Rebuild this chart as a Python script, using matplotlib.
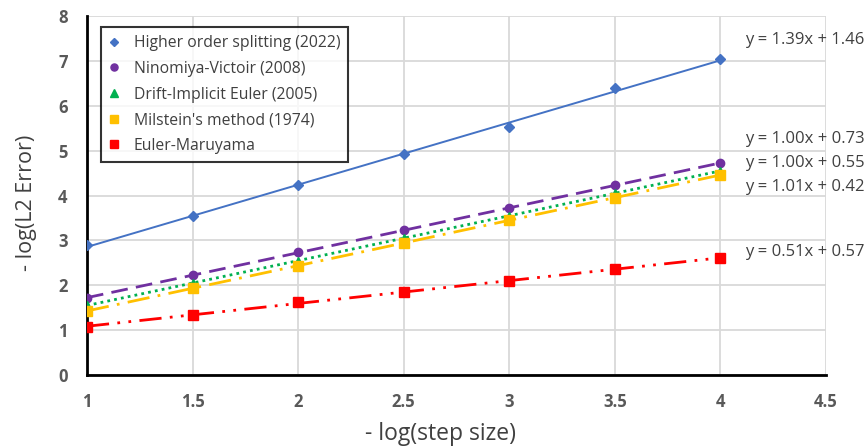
import numpy as np
import matplotlib
matplotlib.use("Agg")
import matplotlib.pyplot as plt

plt.rcParams['font.family'] = ['Open Sans', 'DejaVu Sans']

x = [1, 1.5, 2, 2.5, 3, 3.5, 4]
higher_order = [2.90, 3.54, 4.23, 4.92, 5.52, 6.39, 7.04]
ninomiya = [1.71, 2.23, 2.74, 3.23, 3.72, 4.23, 4.72]
drift_implicit = [1.55, 2.05, 2.55, 3.05, 3.55, 4.05, 4.55]
milstein = [1.43, 1.93, 2.44, 2.94, 3.45, 3.95, 4.46]
euler_maruyama = [1.07, 1.34, 1.63, 1.85, 2.09, 2.36, 2.61]

labels = ["Higher order splitting (2022)", "Ninomiya-Victoir (2008)",
          "Drift-Implicit Euler (2005)", "Milstein's method (1974)", "Euler-Maruyama"]
equations = ["y = 1.39x + 1.46", "y = 1.00x + 0.73", "y = 1.00x + 0.55",
             "y = 1.01x + 0.42", "y = 0.51x + 0.57"]
eq_y = [7.47, 5.26, 4.72, 4.19, 2.74]
xticks = [1, 1.5, 2, 2.5, 3, 3.5, 4, 4.5]
yticks = [0, 1, 2, 3, 4, 5, 6, 7, 8]

series = [higher_order, ninomiya, drift_implicit, milstein, euler_maruyama]
colors = ["#4472C4", "#7030A0", "#00B050", "#FFC000", "#FF0000"]
markers = ["D", "o", "^", "s", "s"]
msizes = [5, 6, 6, 7, 7]
styles = ["-", (0, (6, 3)), (0, (1, 1.5)), (0, (8, 3, 1, 3)), (0, (8, 3, 1, 3, 1, 3))]
lws = [1.4, 2.0, 2.0, 2.0, 2.0]

fig = plt.figure(figsize=(8.67, 4.47), dpi=100)
ax = fig.add_axes([0.1003, 0.161, 0.8524, 0.803])

xs = np.array(x)
handles = []
for s, c, m, ms, ls, lw, lab in zip(series, colors, markers, msizes, styles, lws, labels):
    k, b = np.polyfit(xs, np.array(s), 1)
    ax.plot([xs[0], xs[-1]], [k * xs[0] + b, k * xs[-1] + b], color=c, linestyle=ls, lw=lw, zorder=2)
    h, = ax.plot(xs, s, linestyle='none', marker=m, color=c, markersize=ms, zorder=3, label=lab)
    handles.append(h)

for e, yy in zip(equations, eq_y):
    ax.text(4.116, yy, e, fontsize=12, color="#404040", va='center', ha='left', clip_on=False)

ax.set_xlim(1, 4.5)
ax.set_ylim(0, 8)
ax.set_xticks(xticks)
ax.set_xticklabels([f"{t:g}" for t in xticks])
ax.set_yticks(yticks)
ax.grid(True, color="#D9D9D9", lw=1.3)
ax.set_axisbelow(True)
for sp in ["top", "right"]:
    ax.spines[sp].set_visible(False)
for sp in ["left", "bottom"]:
    ax.spines[sp].set_linewidth(2)
    ax.spines[sp].set_color("black")
ax.tick_params(length=0, labelsize=12, labelcolor="#595959")
ax.tick_params(axis='x', pad=13)
ax.tick_params(axis='y', pad=14)
for t in ax.get_xticklabels() + ax.get_yticklabels():
    t.set_fontweight('bold')
ax.set_xlabel("- log(step size)", fontsize=16.5, color="#404040")
ax.set_ylabel("- log(L2 Error)", fontsize=15.5, color="#404040")
ax.xaxis.set_label_coords(0.478, -0.13)
ax.yaxis.set_label_coords(-0.068, 0.479)

leg = ax.legend(handles=handles, loc='upper left', bbox_to_anchor=(0.019, 0.969),
                borderaxespad=0,
                fontsize=11.3, frameon=True, fancybox=False, edgecolor='black',
                handlelength=0.7, handletextpad=0.9, borderpad=0.5, labelspacing=0.62,
                labelcolor="#404040", markerscale=0.85)
leg.get_frame().set_linewidth(1.5)

fig.savefig("out.png", dpi=100)
